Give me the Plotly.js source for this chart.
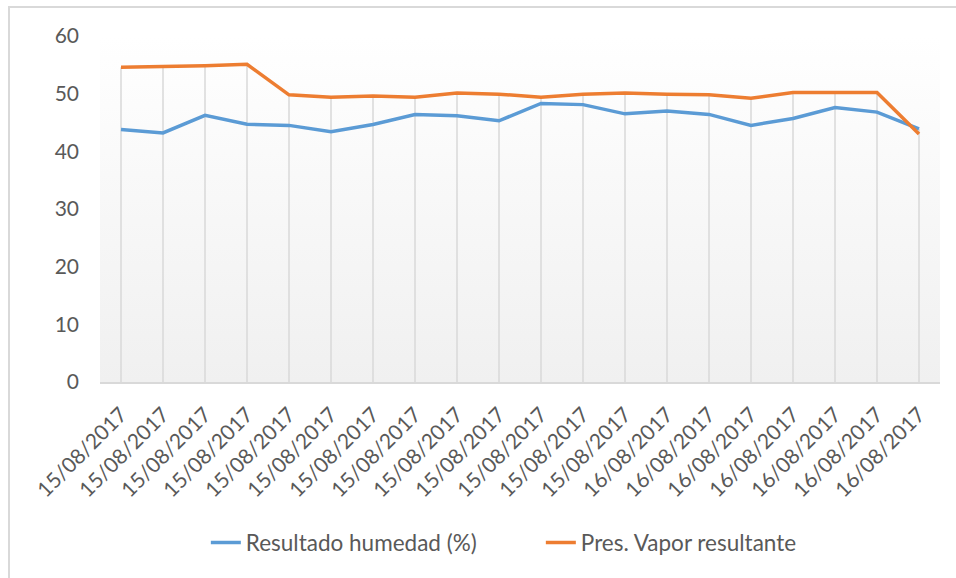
<!DOCTYPE html>
<html>
<head>
<meta charset="utf-8">
<script src="https://cdn.plot.ly/plotly-3.0.1.min.js"></script>
<style>
  html, body { margin: 0; padding: 0; background: #ffffff; }
  #wrap { position: relative; width: 956px; height: 578px; }
  #chart { position: absolute; left: 0; top: 0; width: 956px; height: 578px; }
  #frame { position: absolute; left: 8px; top: 6px; right: 0; bottom: 0;
           border-left: 2px solid #d9d9d9; border-top: 2px solid #d9d9d9; pointer-events: none; }
</style>
</head>
<body>
<div id="wrap">
  <div id="chart"></div>
  <div id="frame"></div>
</div>
<script>
// ---- data ----
var dateLabels = [
  "15/08/2017","15/08/2017","15/08/2017","15/08/2017","15/08/2017",
  "15/08/2017","15/08/2017","15/08/2017","15/08/2017","15/08/2017",
  "15/08/2017","15/08/2017","15/08/2017","16/08/2017","16/08/2017",
  "16/08/2017","16/08/2017","16/08/2017","16/08/2017","16/08/2017"
];
var humedad = [43.8, 43.2, 46.25, 44.7, 44.5, 43.4, 44.65, 46.4, 46.15, 45.3,
               48.3, 48.1, 46.5, 47.0, 46.4, 44.5, 45.7, 47.6, 46.8, 43.9];
var presVapor = [54.6, 54.7, 54.85, 55.1, 49.8, 49.4, 49.6, 49.4, 50.1, 49.9,
                 49.4, 49.9, 50.1, 49.9, 49.8, 49.2, 50.2, 50.2, 50.2, 43.0];
var seriesNames = ["Resultado humedad (%)", "Pres. Vapor resultante"];
var yTicks = [0, 10, 20, 30, 40, 50, 60];

// ---- build ----
var idx = dateLabels.map(function (d, i) { return i; });

// drop lines: from the highest value of each category down to the axis
var dropX = [], dropY = [];
idx.forEach(function (i) {
  dropX.push(i, i, null);
  dropY.push(Math.max(humedad[i], presVapor[i]), 0, null);
});

var FONT = "Lato, 'Open Sans', sans-serif";
var GREY = "#595959";

var traces = [
  { x: dropX, y: dropY, mode: "lines", type: "scatter",
    line: { color: "#d9d9d9", width: 1.5 }, showlegend: false, hoverinfo: "skip" },
  { x: idx, y: humedad, name: seriesNames[0], mode: "lines", type: "scatter",
    line: { color: "#5b9bd5", width: 3.5 } },
  { x: idx, y: presVapor, name: seriesNames[1], mode: "lines", type: "scatter",
    line: { color: "#ed7d31", width: 3.5 } }
];

var grad = 'data:image/svg+xml;utf8,' + encodeURIComponent(
  '<svg xmlns="http://www.w3.org/2000/svg" width="10" height="100" preserveAspectRatio="none">' +
  '<defs><linearGradient id="g" x1="0" y1="0" x2="0" y2="1">' +
  '<stop offset="0" stop-color="#ffffff"/><stop offset="1" stop-color="#f0f0f0"/>' +
  '</linearGradient></defs><rect width="10" height="100" fill="url(#g)"/></svg>');

var layout = {
  width: 956, height: 578,
  margin: { l: 100, r: 16, t: 35.5, b: 195.5 },
  paper_bgcolor: "rgba(0,0,0,0)",
  plot_bgcolor: "rgba(0,0,0,0)",
  font: { family: FONT, size: 21, color: GREY },
  showlegend: true,
  xaxis: {
    range: [-0.5, 19.5],
    tickmode: "array", tickvals: idx, ticktext: dateLabels,
    tickangle: -45,
    tickfont: { family: FONT, size: 21, color: GREY },
    showgrid: false, zeroline: false,
    showline: true, linecolor: "#d9d9d9", linewidth: 2,
    ticks: "", ticklabelstandoff: 10,
    fixedrange: true
  },
  yaxis: {
    range: [0, 60],
    tickmode: "array", tickvals: yTicks,
    tickfont: { family: FONT, size: 21, color: GREY },
    showgrid: false, zeroline: false, showline: false,
    ticks: "", ticklabelstandoff: 20,
    fixedrange: true
  },
  legend: {
    orientation: "h",
    x: 0.126, xanchor: "left",
    y: -0.465, yanchor: "middle",
    font: { family: FONT, size: 22.5, color: GREY },
    entrywidth: 290, entrywidthmode: "pixels",
    bgcolor: "rgba(0,0,0,0)"
  },
  images: [{
    source: grad, xref: "paper", yref: "paper",
    x: 0, y: 1, sizex: 1, sizey: 1, xanchor: "left", yanchor: "top",
    sizing: "stretch", layer: "below"
  }]
};

Plotly.newPlot("chart", traces, layout, { displayModeBar: false, staticPlot: true });
</script>
</body>
</html>
